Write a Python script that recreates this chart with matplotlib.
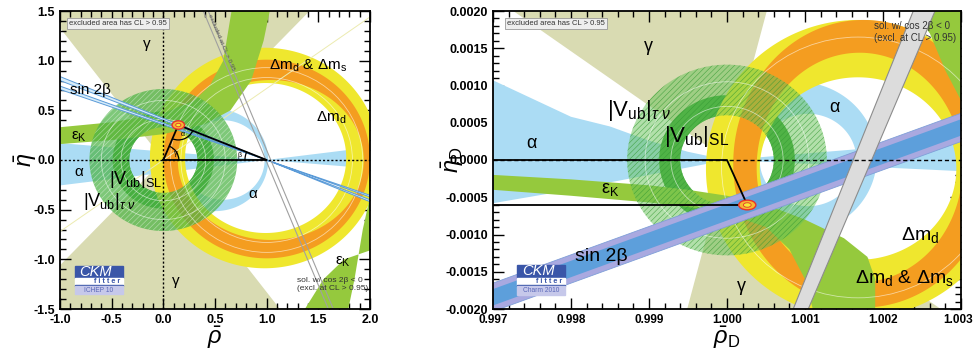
import numpy as np
import matplotlib
matplotlib.use('Agg')
import matplotlib.pyplot as plt
import matplotlib.transforms as mtrans
from matplotlib.patches import PathPatch, Polygon, Ellipse, Arc, Rectangle
from matplotlib.path import Path
from matplotlib.ticker import MultipleLocator, FormatStrFormatter

plt.rcParams['font.family'] = ['Liberation Sans', 'DejaVu Sans']
plt.rcParams['mathtext.fontset'] = 'custom'
plt.rcParams['mathtext.rm'] = 'Liberation Sans'
plt.rcParams['mathtext.it'] = 'Liberation Sans:italic'
plt.rcParams['mathtext.bf'] = 'Liberation Sans:bold'
plt.rcParams['axes.unicode_minus'] = False
plt.rcParams['hatch.linewidth'] = 0.4

# ---------------- B-meson triangle (left) ----------------
apex = (0.145, 0.352)
gamma_slopes = [-1.33, 1.06]           # lines through (0,0)
alpha_slopes = [-0.085, 0.128]         # lines through (1,0)
alpha_outer = (0.50, 0.0, 0.515, 0.515)
alpha_inner = (0.58, 0.0, 0.40, 0.40)
sin2b_tan = [(0.400, 0.420), (0.355, 0.372)]
dm_yellow = [(0.98, 0.02, 1.11, 1.11), (0.99, 0.02, 0.78, 0.755)]
dm_orange = [(1.00, 0.01, 1.00, 1.00), (1.04, 0.00, 0.90, 0.805)]
vub_sl = [0.49, 0.33]
vub_taunu = [0.715, 0.33]
epsk1_top_rho = [-1.0, -0.5, 0.0, 0.3, 0.45, 0.58, 0.66]
epsk1_top_eta = [0.33, 0.38, 0.47, 0.60, 0.75, 1.00, 1.50]
epsk1_bot_rho = [-1.0, -0.5, 0.0, 0.4, 0.65, 0.85, 0.97, 1.03]
epsk1_bot_eta = [0.16, 0.20, 0.26, 0.36, 0.50, 0.80, 1.20, 1.50]
epsk2_top_rho = [2.0, 1.93, 1.85, 1.79]
epsk2_top_eta = [-0.37, -0.70, -1.20, -1.50]
epsk2_bot_rho = [2.0, 1.75, 1.55, 1.37]
epsk2_bot_eta = [-0.91, -1.00, -1.20, -1.50]
excl_lines = [((0.387, 1.5), (1.597, -1.5)), ((0.435, 1.5), (1.645, -1.5))]
contour_circles = [(0.0, 0.0, 0.60), (0.0, 0.0, 0.41), (1.0, 0.0, 0.93), (1.0, 0.0, 0.83)]

# ---------------- D-meson triangle (right) ----------------
apexD = (1.00026, -0.000604)
gammaD_slopes = [-0.73, 3.92]          # lines through (1,0)
alphaD_up_rho = [0.997, 0.998, 0.9985, 0.999, 0.9995, 1.0, 1.003]
alphaD_up_eta = [0.00107, 0.00058, 0.00045, 0.00026, 0.00011, 0.0, 0.00026]
alphaD_lo_rho = [0.997, 0.998, 0.999, 1.0, 1.003]
alphaD_lo_eta = [-0.00058, -0.00040, -0.00020, 0.0, -0.00015]
alphaD_outer = (1.0009, 0.00003, 0.00102, 0.00102)
alphaD_inner = (1.00104, 0.0, 0.00062, 0.00062)
dmD_yellow = [(1.00168, -0.00012, 0.00195, 0.0020), (1.00168, -0.000115, 0.00126, 0.001225)]
dmD_orange = [(1.00175, -0.00005, 0.00167, 0.00193), (1.0017, -0.0001, 0.00132, 0.00154)]
vubD_sl = [0.00087, 0.0006]
vubD_taunu = [0.00128, 0.0006]
epskD_top_rho = [0.997, 0.998, 0.999, 0.9995, 1.0, 1.0005, 1.001, 1.0015, 1.0018, 1.0019, 1.0019]
epskD_top_eta = [-0.0002, -0.00026, -0.00034, -0.0004, -0.00048, -0.0006, -0.0008, -0.00105, -0.0013, -0.0016, -0.002]
epskD_bot_rho = [0.997, 0.998, 0.999, 0.9995, 1.0, 1.0005, 1.0008, 1.001, 1.0011]
epskD_bot_eta = [-0.0004, -0.00048, -0.00057, -0.00063, -0.00072, -0.0009, -0.0012, -0.0016, -0.002]
epskD2_rho = [1.00238, 1.0026, 1.0028, 1.003]
epskD2_eta = [0.002, 0.0017, 0.0012, 0.0008]
sin2bD_slope = 0.38
sin2bD_halfwidth = [0.00011, 0.00019]
grayD_left = [(1.000849, -0.002), (1.002388, 0.002)]
grayD_right = [(1.001042, -0.002), (1.002667, 0.002)]
contourD_circles = [(1.0, 0.0, 0.00105), (1.0, 0.0, 0.00072), (1.00168, -0.0001, 0.00175)]
rhoD_ticks = [0.997, 0.998, 0.999, 1.000, 1.001, 1.002, 1.003]
rhoD_labels = ['0.997', '0.998', '0.999', '1.000', '1.001', '1.002', '1.003']

c_tan = '#d9dbb2'
c_lime = '#95c93d'
c_yellow = '#efe72e'
c_orange = '#f49d20'
c_lblue = '#abdcf4'
c_green = '#3aa535'


def ell(cx, cy, rx, ry, rev=False, n=240):
    t = np.linspace(0, 2 * np.pi, n)
    if rev:
        t = t[::-1]
    return np.column_stack([cx + rx * np.cos(t), cy + ry * np.sin(t)])


def ring(ax, outer, inner, z, **kw):
    o = ell(*outer)
    i = ell(*inner, rev=True)
    codes = [Path.MOVETO] + [Path.LINETO] * (len(o) - 1)
    codes = codes + codes
    ax.add_patch(PathPatch(Path(np.vstack([o, i]), codes), zorder=z, **kw))


def band(ax, x1, y1, x2, y2, z, **kw):
    pts = list(zip(x1, y1)) + list(zip(x2, y2))[::-1]
    ax.add_patch(Polygon(pts, closed=True, zorder=z, **kw))


def double_wedge(ax, x0, y0, slopes, far, z, horizontal=False, **kw):
    s1, s2 = slopes
    for sgn in (1, -1):
        if horizontal:
            dx = sgn * far
            pts = [(x0, y0), (x0 + dx, y0 + s1 * dx), (x0 + dx, y0 + s2 * dx)]
        else:
            dy = sgn * far
            pts = [(x0, y0), (x0 + dy / s1, y0 + dy), (x0 + dy / s2, y0 + dy)]
        ax.add_patch(Polygon(pts, closed=True, zorder=z, **kw))


def logo(ax, x0, y0, w, h, sub):
    tr = ax.transAxes
    ax.add_patch(Rectangle((x0, y0 + 0.58 * h), w, 0.42 * h, transform=tr, color='#3a56a8', zorder=20))
    ax.add_patch(Rectangle((x0, y0 + 0.33 * h), w, 0.25 * h, transform=tr, color='white', zorder=20))
    ax.add_patch(Rectangle((x0, y0 + 0.30 * h), w, 0.04 * h, transform=tr, color='#3a56a8', zorder=20))
    ax.add_patch(Rectangle((x0, y0), w, 0.30 * h, transform=tr, color='#c6c8ea', zorder=20))
    ax.text(x0 + 0.1 * w, y0 + 0.79 * h, 'CKM', transform=tr, color='white', style='italic',
            fontsize=10.5, va='center', ha='left', zorder=21)
    ax.text(x0 + 0.95 * w, y0 + 0.46 * h, 'f i t t e r', transform=tr, color='#3a56a8', weight='bold',
            fontsize=5.2, va='center', ha='right', zorder=21)
    ax.text(x0 + 0.5 * w, y0 + 0.14 * h, sub, transform=tr, color='#5a68b8',
            fontsize=4.8, va='center', ha='center', zorder=21)


def style_axes(ax, xmaj, xmin, ymaj, ymin, xfmt, yfmt):
    ax.xaxis.set_major_locator(MultipleLocator(xmaj))
    ax.xaxis.set_minor_locator(MultipleLocator(xmin))
    ax.yaxis.set_major_locator(MultipleLocator(ymaj))
    ax.yaxis.set_minor_locator(MultipleLocator(ymin))
    ax.xaxis.set_major_formatter(FormatStrFormatter(xfmt))
    ax.yaxis.set_major_formatter(FormatStrFormatter(yfmt))
    ax.tick_params(which='both', direction='in', top=True, right=True, width=1.0, labelsize=9)
    ax.tick_params(which='major', length=8)
    ax.tick_params(which='minor', length=4)
    for sp in ax.spines.values():
        sp.set_linewidth(1.3)
        sp.set_zorder(30)


def bold_labels(ax):
    for lbl in ax.get_xticklabels() + ax.get_yticklabels():
        lbl.set_fontweight('bold')


def thin_circles(ax, circles, z):
    for cx, cy, r in circles:
        ax.add_patch(Ellipse((cx, cy), 2 * r, 2 * r, fill=False, edgecolor=(1, 1, 1, 0.55), lw=0.6, zorder=z))


fig = plt.figure(figsize=(9.73, 3.56), dpi=100)

# ======================= left panel =======================
ax = fig.add_axes([60 / 973, 47 / 356, 310 / 973, 298 / 356])
ax.set_xlim(-1, 2)
ax.set_ylim(-1.5, 1.5)

double_wedge(ax, 0, 0, gamma_slopes, 5, 1, color=c_tan, lw=0)
double_wedge(ax, 1, 0, alpha_slopes, 5, 2, horizontal=True, color=c_lblue, lw=0)
ring(ax, alpha_outer, alpha_inner, 2, color=c_lblue, lw=0)
ring(ax, (0, 0, vub_sl[0], vub_sl[0]), (0, 0, vub_sl[1], vub_sl[1]), 3, color=c_green, lw=0)
ring(ax, dm_yellow[0], dm_yellow[1], 4, color=c_yellow, lw=0)
ring(ax, dm_orange[0], dm_orange[1], 5, color=c_orange, lw=0)
band(ax, epsk1_top_rho, epsk1_top_eta, epsk1_bot_rho, epsk1_bot_eta, 6, color=c_lime, lw=0)
band(ax, epsk2_top_rho, epsk2_top_eta, epsk2_bot_rho, epsk2_bot_eta, 6, color=c_lime, lw=0)
ring(ax, (0, 0, vub_taunu[0], vub_taunu[0]), (0, 0, vub_taunu[1], vub_taunu[1]), 7,
     facecolor=(0.30, 0.70, 0.27, 0.72), edgecolor=(1, 1, 1, 0.5), lw=0, hatch='//////')
thin_circles(ax, contour_circles, 7.5)

xs = np.array([-1.2, 2.2])
ax.plot(xs, 0.72 * xs, color='#ecebb0', lw=0.7, zorder=6.5)
for t1, t2 in sin2b_tan:
    band(ax, xs, -t1 * (xs - 1), xs, -t2 * (xs - 1), 8, facecolor='#d6ecfa', edgecolor='#5b9bd8', lw=0.7)
for (p1, p2) in excl_lines:
    ax.plot([p1[0], p2[0]], [p1[1], p2[1]], color='#a0a0a0', lw=0.8, zorder=9)
ax.text(0.56, 1.18, 'excluded at CL > 0.95', rotation=-67, fontsize=4.5, color='#555555',
        ha='center', va='center', zorder=9)

ax.axvline(0, color='black', ls=(0, (1.5, 1.5)), lw=1.0, zorder=10)
ax.axhline(0, color='black', ls=(0, (1.5, 1.5)), lw=1.0, zorder=10)
ax.plot([0, apex[0], 1, 0], [0, apex[1], 0, 0], color='black', lw=1.3, zorder=11)
gam = np.degrees(np.arctan2(apex[1], apex[0]))
bet = np.degrees(np.arctan2(apex[1], 1 - apex[0]))
ax.add_patch(Arc((0, 0), 0.3, 0.3, theta1=0, theta2=gam, color='black', lw=0.9, zorder=11))
ax.add_patch(Arc((1, 0), 0.42, 0.42, theta1=180 - bet, theta2=180, color='black', lw=0.9, zorder=11))
ax.add_patch(Arc(apex, 0.3, 0.3, theta1=180 + gam, theta2=360 - bet, color='black', lw=0.9, zorder=11))
ax.text(0.1, 0.05, 'γ', fontsize=5, zorder=11)
ax.text(0.72, 0.03, 'β', fontsize=5, zorder=11)
ax.text(0.17, 0.24, 'α', fontsize=5, zorder=11)
ax.add_patch(Ellipse(apex, 0.12, 0.085, facecolor='#f7b733', edgecolor='#e8332a', lw=1.0, zorder=12))
ax.add_patch(Ellipse(apex, 0.05, 0.035, facecolor='#f5ea3a', edgecolor='#e8332a', lw=0.6, zorder=12))

ax.text(-0.16, 1.17, 'γ', fontsize=11, ha='center', va='center', zorder=15)
ax.text(0.12, -1.22, 'γ', fontsize=11, ha='center', va='center', zorder=15)
ax.text(1.40, 0.95, r'Δm$_\mathrm{d}$ & Δm$_\mathrm{s}$', fontsize=11, ha='center', va='center', zorder=15)
ax.text(1.62, 0.42, r'Δm$_\mathrm{d}$', fontsize=11, ha='center', va='center', zorder=15)
ax.text(-0.71, 0.70, 'sin 2β', fontsize=11, ha='center', va='center', zorder=15)
ax.text(-0.82, 0.23, r'ε$_\mathrm{K}$', fontsize=11, ha='center', va='center', zorder=15)
ax.text(1.74, -1.02, r'ε$_\mathrm{K}$', fontsize=11, ha='center', va='center', zorder=15)
ax.text(-0.82, -0.12, 'α', fontsize=11, ha='center', va='center', zorder=15)
ax.text(0.87, -0.34, 'α', fontsize=11, ha='center', va='center', zorder=15)
ax.text(-0.27, -0.20, r'|V$_\mathrm{ub}$|$_\mathrm{SL}$', fontsize=13, ha='center', va='center', zorder=15)
ax.text(-0.52, -0.42, r'|V$_\mathrm{ub}$|$_{\tau\ \nu}$', fontsize=13, ha='center', va='center', zorder=15)
ax.text(0.03, 0.958, 'excluded area has CL > 0.95', transform=ax.transAxes, fontsize=5.5, va='center',
        color='#333333', zorder=20,
        bbox=dict(boxstyle='square,pad=0.3', facecolor='#eeeeee', edgecolor='#999999', lw=0.6))
ax.text(0.765, 0.082, 'sol. w/ cos 2β < 0\n(excl. at CL > 0.95)', transform=ax.transAxes,
        fontsize=6, va='center', color='#333333', zorder=20, linespacing=1.3)
logo(ax, 0.048, 0.05, 0.155, 0.094, 'ICHEP 10')
style_axes(ax, 0.5, 0.1, 0.5, 0.1, '%.1f', '%.1f')
bold_labels(ax)

fig.text(0.026, 0.55, r'$\bar{\eta}$', fontsize=17, rotation=90, ha='center', va='center')
fig.text(0.221, 0.05, r'$\bar{\rho}$', fontsize=17, ha='center', va='center')

# ======================= right panel =======================
bx = fig.add_axes([493 / 973, 47 / 356, 468 / 973, 298 / 356])
bx.set_xlim(0.997, 1.003)
bx.set_ylim(-0.002, 0.002)

double_wedge(bx, 1.0, 0.0, gammaD_slopes, 0.01, 1, color=c_tan, lw=0)
band(bx, alphaD_up_rho, alphaD_up_eta, alphaD_lo_rho, alphaD_lo_eta, 2, color=c_lblue, lw=0)
ring(bx, alphaD_outer, alphaD_inner, 2, color=c_lblue, lw=0)
ring(bx, (1.0, 0, vubD_sl[0], vubD_sl[0]), (1.0, 0, vubD_sl[1], vubD_sl[1]), 3, color=c_green, lw=0)
ring(bx, dmD_yellow[0], dmD_yellow[1], 4, color=c_yellow, lw=0)
ring(bx, dmD_orange[0], dmD_orange[1], 5, color=c_orange, lw=0)
band(bx, epskD_top_rho, epskD_top_eta, epskD_bot_rho, epskD_bot_eta, 6, color=c_lime, lw=0)
band(bx, epskD2_rho, epskD2_eta, [1.00238, 1.0031], [0.0021, 0.0021], 6, color=c_lime, lw=0)
ring(bx, (1.0, 0, vubD_taunu[0], vubD_taunu[0]), (1.0, 0, vubD_taunu[1], vubD_taunu[1]), 7,
     facecolor=(0.40, 0.76, 0.34, 0.5), edgecolor=(0.2, 0.6, 0.2, 0.8), lw=0, hatch='//////')
thin_circles(bx, contourD_circles, 7.5)

xd = np.array([0.9965, 1.0035])
yc = apexD[1] + sin2bD_slope * (xd - apexD[0])
band(bx, xd, yc + sin2bD_halfwidth[1], xd, yc - sin2bD_halfwidth[1], 8,
     facecolor='#a9a9e0', edgecolor='#7f9fd8', lw=0.6)
band(bx, xd, yc + sin2bD_halfwidth[0], xd, yc - sin2bD_halfwidth[0], 8.5, color='#5d9fdb', lw=0)
band(bx, [p[0] for p in grayD_left], [p[1] for p in grayD_left],
     [p[0] for p in grayD_right], [p[1] for p in grayD_right], 9,
     facecolor='#dcdcdc', edgecolor='#8c8c8c', lw=0.8)

bx.axhline(0, color='black', ls=(0, (3, 2)), lw=1.0, zorder=10)
bx.plot([0.996, 1.0, apexD[0], 0.996], [0.0, 0.0, apexD[1], apexD[1]], color='black', lw=1.3, zorder=11)
bx.add_patch(Ellipse(apexD, 0.00022, 0.00013, facecolor='#f7b733', edgecolor='#e8332a', lw=1.0, zorder=12))
bx.add_patch(Ellipse(apexD, 0.0001, 0.00006, facecolor='#f5ea3a', edgecolor='#e8332a', lw=0.6, zorder=12))

bx.text(0.99899, 0.00152, 'γ', fontsize=13, ha='center', va='center', zorder=15)
bx.text(1.00019, -0.0017, 'γ', fontsize=13, ha='center', va='center', zorder=15)
bx.text(0.99888, 0.00067, r'|V$_\mathrm{ub}$|$_{\tau\ \nu}$', fontsize=16, ha='center', va='center', zorder=15)
bx.text(0.99961, 0.00031, r'|V$_\mathrm{ub}$|$_\mathrm{SL}$', fontsize=16, ha='center', va='center', zorder=15)
bx.text(0.99749, 0.00022, 'α', fontsize=13, ha='center', va='center', zorder=15)
bx.text(1.00138, 0.00071, 'α', fontsize=13, ha='center', va='center', zorder=15)
bx.text(0.99850, -0.0004, r'ε$_\mathrm{K}$', fontsize=13, ha='center', va='center', zorder=15)
bx.text(0.99839, -0.0013, 'sin 2β', fontsize=14, ha='center', va='center', zorder=15)
bx.text(1.00247, -0.00101, r'Δm$_\mathrm{d}$', fontsize=14, ha='center', va='center', zorder=15)
bx.text(1.00228, -0.00159, r'Δm$_\mathrm{d}$ & Δm$_\mathrm{s}$', fontsize=14, ha='center', va='center', zorder=15)
bx.text(0.03, 0.958, 'excluded area has CL > 0.95', transform=bx.transAxes, fontsize=5.5, va='center',
        color='#333333', zorder=20,
        bbox=dict(boxstyle='square,pad=0.3', facecolor='#eeeeee', edgecolor='#999999', lw=0.6))
bx.text(0.815, 0.93, 'sol. w/ cos 2β < 0\n(excl. at CL > 0.95)', transform=bx.transAxes,
        fontsize=7, va='center', color='#333333', zorder=20, linespacing=1.3)
logo(bx, 0.051, 0.047, 0.103, 0.101, 'Charm 2010')
style_axes(bx, 0.001, 0.0002, 0.0005, 0.0001, '%.3f', '%.4f')
bx.set_xticks(rhoD_ticks, rhoD_labels)
bx.set_xlim(0.997, 1.003)
bx.tick_params(axis='x', labelsize=8.5)
bold_labels(bx)
# keep the last x label inside the figure
last = bx.get_xticklabels()[-1]
last.set_horizontalalignment('right')
last.set_transform(last.get_transform() + mtrans.ScaledTranslation(12 / 100, 0, fig.dpi_scale_trans))

fig.text(0.747, 0.05, r'$\bar{\rho}_\mathrm{D}$', fontsize=17, ha='center', va='center')
fig.text(0.465, 0.55, r'$\bar{\eta}_\mathrm{D}$', fontsize=17, rotation=90, ha='center', va='center')

fig.savefig('out.png', dpi=100)
